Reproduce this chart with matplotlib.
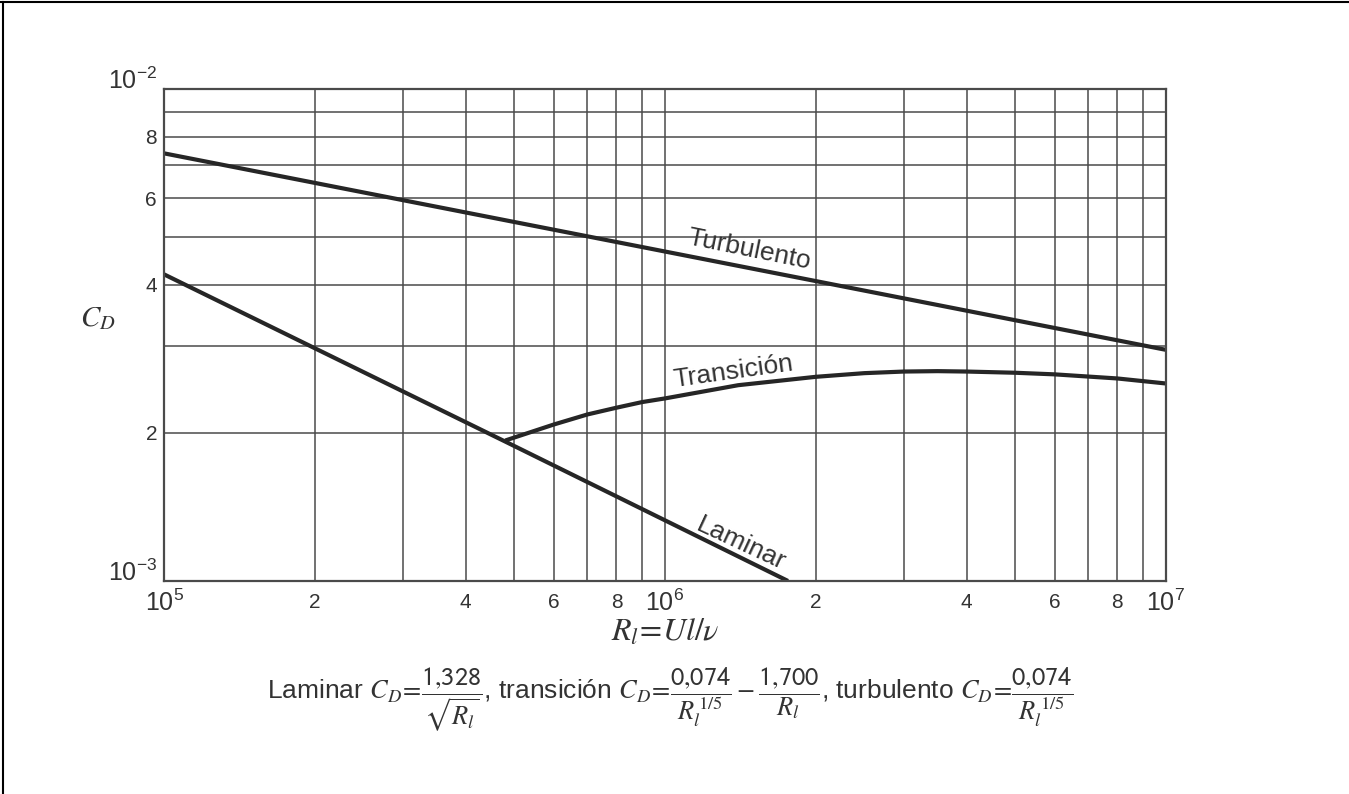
import matplotlib
matplotlib.use('Agg')
import matplotlib.pyplot as plt
from matplotlib.ticker import FixedLocator, FixedFormatter
from matplotlib.lines import Line2D

plt.rcParams['font.family'] = ['Liberation Sans', 'DejaVu Sans']
plt.rcParams['mathtext.fontset'] = 'stix'

# values
laminar_re = [1e5, 4.8e5, 1.76e6]
laminar_cd = [4.2e-3, 1.92e-3, 1.0e-3]

turb_re = [1e5, 2e6, 1e7]
turb_cd = [7.4e-3, 4.07e-3, 2.95e-3]

trans_re = [4.8e5, 6e5, 7e5, 8e5, 9e5, 1e6, 1.4e6, 2e6, 2.5e6, 3e6, 3.5e6, 4e6, 5e6, 6e6, 8e6, 1e7]
trans_cd = [1.93e-3, 2.08e-3, 2.18e-3, 2.25e-3, 2.31e-3, 2.35e-3, 2.50e-3, 2.60e-3,
            2.645e-3, 2.665e-3, 2.67e-3, 2.665e-3, 2.65e-3, 2.63e-3, 2.58e-3, 2.52e-3]

x_major = [1e5, 1e6, 1e7]
x_major_labels = [r'$\mathdefault{10^{5}}$', r'$\mathdefault{10^{6}}$', r'$\mathdefault{10^{7}}$']
y_major = [1e-3, 1e-2]
y_major_labels = [r'$\mathdefault{10^{-3}}$', r'$\mathdefault{10^{-2}}$']
minor_digits = ['2', '', '4', '', '6', '', '8', '']

x_minor = [k * 10**d for d in (5, 6) for k in range(2, 10)]
x_minor_labels = minor_digits * 2
y_minor = [k * 1e-3 for k in range(2, 10)]
y_minor_labels = minor_digits

line_col = '#262626'
grid_col = '#4a4a4a'
text_col = '#333333'

fig = plt.figure(figsize=(13.49, 7.94), dpi=100)
ax = fig.add_axes([0.1216, 0.2683, 0.7427, 0.6196])
ax.set_xscale('log')
ax.set_yscale('log')
ax.set_xlim(1e5, 1e7)
ax.set_ylim(1e-3, 1e-2)

ax.xaxis.set_major_locator(FixedLocator(x_major))
ax.xaxis.set_major_formatter(FixedFormatter(x_major_labels))
ax.xaxis.set_minor_locator(FixedLocator(x_minor))
ax.xaxis.set_minor_formatter(FixedFormatter(x_minor_labels))
ax.yaxis.set_major_locator(FixedLocator(y_major))
ax.yaxis.set_major_formatter(FixedFormatter(y_major_labels))
ax.yaxis.set_minor_locator(FixedLocator(y_minor))
ax.yaxis.set_minor_formatter(FixedFormatter(y_minor_labels))

ax.tick_params(which='both', length=0, colors=text_col)
ax.tick_params(axis='x', which='major', labelsize=18, pad=6)
ax.tick_params(axis='x', which='minor', labelsize=15, pad=9)
ax.tick_params(axis='y', which='major', labelsize=18, pad=5)
ax.tick_params(axis='y', which='minor', labelsize=15, pad=5)
for lbl in ax.get_yticklabels(which='major'):
    lbl.set_verticalalignment('baseline')

ax.grid(True, which='both', color=grid_col, lw=1.1)
for s in ax.spines.values():
    s.set_color(grid_col)
    s.set_linewidth(1.6)

ax.plot(laminar_re, laminar_cd, color=line_col, lw=3, solid_capstyle='butt')
ax.plot(turb_re, turb_cd, color=line_col, lw=3, solid_capstyle='butt')
ax.plot(trans_re, trans_cd, color=line_col, lw=3, solid_capstyle='butt')

ax.text(1.47e6, 4.71e-3, 'Turbulento', fontsize=19, color=text_col,
        rotation=-11.5, rotation_mode='anchor', ha='center', va='center')
ax.text(1.37e6, 2.66e-3, 'Transición', fontsize=19, color=text_col,
        rotation=8, rotation_mode='anchor', ha='center', va='center')
ax.text(1.42e6, 1.19e-3, 'Laminar', fontsize=19, color=text_col,
        rotation=-25, rotation_mode='anchor', ha='center', va='center')

ax.set_xlabel(r'$R_l\!=\!Ul/\nu$', fontsize=23, color=text_col, va='center')
ax.xaxis.set_label_coords(0.5, -0.106)
ax.set_ylabel(r'$C_D$', fontsize=21, color=text_col, rotation=0, ha='center', va='center')
ax.yaxis.set_label_coords(-0.066, 0.535)

formula = (r'Laminar $C_D\!=\!\dfrac{\mathsf{1{,}328}}{\sqrt{R_l}}$, '
           r'transición $C_D\!=\!\dfrac{\mathsf{0{,}074}}{R_l^{\,1/5}}-\dfrac{\mathsf{1{,}700}}{R_l}$, '
           r'turbulento $C_D\!=\!\dfrac{\mathsf{0{,}074}}{R_l^{\,1/5}}$')
fig.text(0.497, 0.119, formula, fontsize=19, color=text_col, ha='center', va='center')

# scan frame on the left and top
fig.add_artist(Line2D([0.002, 0.002], [0, 0.998], transform=fig.transFigure, color='black', lw=1.5))
fig.add_artist(Line2D([0, 1], [0.997, 0.997], transform=fig.transFigure, color='black', lw=1.5))

plt.savefig('out.png', dpi=100)
